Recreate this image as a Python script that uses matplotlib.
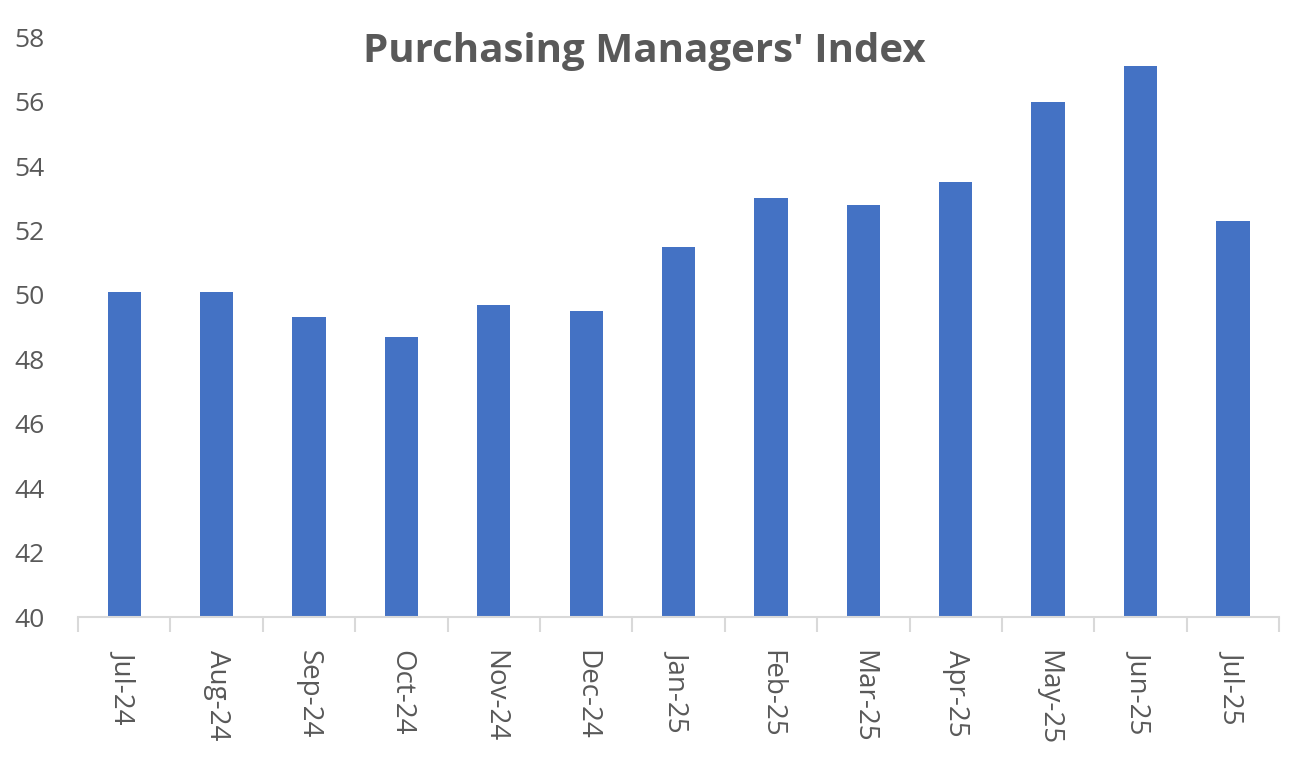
import matplotlib.pyplot as plt
import numpy as np

# Purchasing Managers' Index, monthly
months = ["Jul-24", "Aug-24", "Sep-24", "Oct-24", "Nov-24", "Dec-24", "Jan-25",
          "Feb-25", "Mar-25", "Apr-25", "May-25", "Jun-25", "Jul-25"]
pmi = [50.1, 50.1, 49.3, 48.7, 49.7, 49.5, 51.5, 53.0, 52.8, 53.5, 56.0, 57.1, 52.3]
y_ticks = [40, 42, 44, 46, 48, 50, 52, 54, 56, 58]

BAR_COLOR = "#4472C4"
TEXT_COLOR = "#595959"
AXIS_COLOR = "#D9D9D9"

plt.rcParams["font.family"] = ["Open Sans", "DejaVu Sans"]

fig = plt.figure(figsize=(12.92, 7.71), dpi=100)
ax = fig.add_axes([0.0604, 0.1997, 0.9296, 0.752])

x = np.arange(len(months))
ax.bar(x, pmi, width=0.36, color=BAR_COLOR, zorder=2)

ax.set_xlim(-0.5, len(months) - 0.5)
ax.set_ylim(40, 58)
ax.set_yticks(y_ticks)
ax.set_yticklabels([str(v) for v in y_ticks], fontsize=19, color=TEXT_COLOR)
ax.tick_params(axis="y", length=0, pad=24)

ax.set_xticks(x)
ax.set_xticklabels(months, rotation=-90, fontsize=20, color=TEXT_COLOR)
ax.tick_params(axis="x", which="major", length=0, pad=24)
ax.set_xticks(np.arange(-0.5, len(months)), minor=True)
ax.tick_params(axis="x", which="minor", length=11, width=1.5, color=AXIS_COLOR)

for side in ["top", "right", "left"]:
    ax.spines[side].set_visible(False)
ax.spines["bottom"].set_color(AXIS_COLOR)
ax.spines["bottom"].set_linewidth(1.5)

fig.text(0.4985, 0.933, "Purchasing Managers' Index", ha="center", va="center",
         fontsize=29, fontweight="bold", color=TEXT_COLOR)

fig.savefig("out.png", dpi=100)
